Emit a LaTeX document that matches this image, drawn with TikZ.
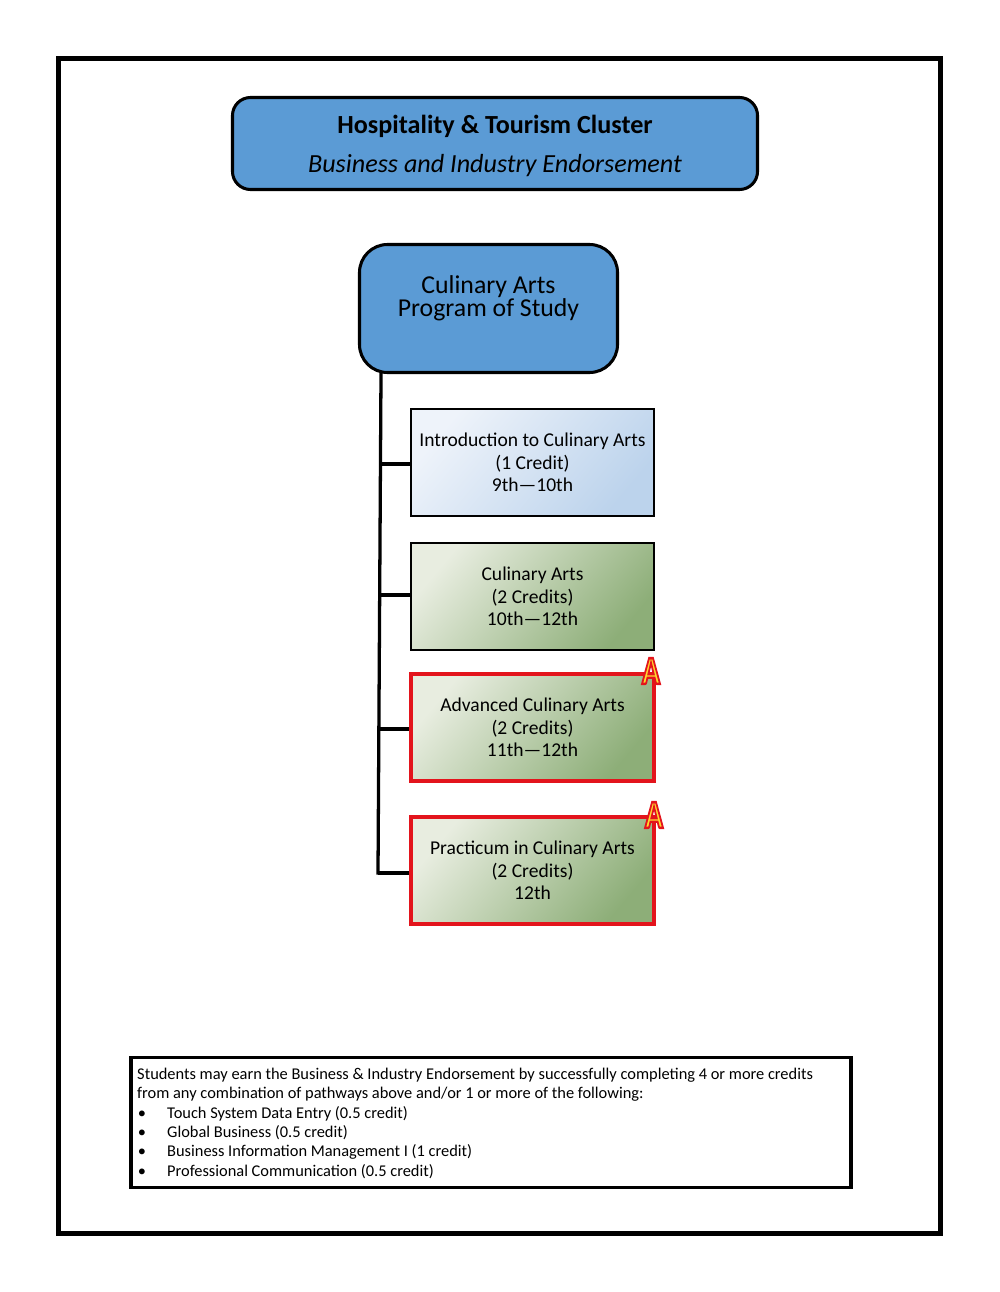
\documentclass[tikz,border=0pt]{standalone}
\usepackage{fontspec}
\setmainfont{Carlito}
\definecolor{headblue}{HTML}{5B9BD5}
\definecolor{lightblue}{HTML}{EEF3FA}
\definecolor{midblue}{HTML}{BCD3EC}
\definecolor{lightgreen}{HTML}{E8EDE0}
\definecolor{midgreen}{HTML}{8DAE78}
\definecolor{markred}{HTML}{E3141C}
\tikzset{
    headbox/.style={draw, fill=headblue, line width=2.6pt, align=center},
    coursebox/.style={draw, line width=2.1pt, minimum width=7.28cm, minimum height=3.22cm, align=center, font=\fontsize{16.7}{19.3}\selectfont},
    bluebox/.style={coursebox, left color=lightblue, right color=midblue, shading angle=50},
    greenbox/.style={coursebox, left color=lightgreen, right color=midgreen, shading angle=50},
    apbox/.style={greenbox, draw=markred, line width=3.4pt},
    branch/.style={line width=2.8pt},
    apmark/.style={inner sep=0pt, font=\bfseries\fontsize{34}{34}\selectfont, transform shape, xscale=0.75}
}
\newcommand{\apletter}{\special{pdf:code 2 Tr 2 w 0.89 0.08 0.11 RG 1 0.85 0.18 rg}A\special{pdf:code 0 Tr}}
\begin{document}
\begin{tikzpicture}[x=0.03cm, y=-0.03cm]
    \useasboundingbox (0,0) rectangle (999,1292);
    \node (frame) at (499.5, 646) [draw, line width=3.8pt, minimum width=26.47cm, minimum height=35.24cm] {};

    \node (cluster) at (495, 143.5) [headbox, rounded corners=0.54cm, minimum width=15.75cm, minimum height=2.76cm] {};
    \node (clustername) at (495, 126.5) {\bfseries\fontsize{22.3}{24}\selectfont Hospitality \& Tourism Cluster};
    \node (clustersub) at (495, 165.5) {\itshape\fontsize{22.3}{24}\selectfont Business and Industry Endorsement};

    \node (program) at (488.5, 308.5) [headbox, rounded corners=0.84cm, minimum width=7.74cm, minimum height=3.84cm] {};
    \node (programname) at (488.5, 298) [align=center, font=\fontsize{22}{19.4}\selectfont] {Culinary Arts\\Program of Study};

    \node (intro) at (532.5, 462.5) [bluebox] {Introduction to Culinary Arts\\(1 Credit)\\9th---10th};
    \node (culinary) at (532.5, 596.5) [greenbox] {Culinary Arts\\(2 Credits)\\10th---12th};
    \node (advanced) at (532.5, 727.5) [apbox] {Advanced Culinary Arts\\(2 Credits)\\11th---12th};
    \node (practicum) at (532.5, 870.5) [apbox] {Practicum in Culinary Arts\\(2 Credits)\\12th};

    \coordinate (trunktop) at (program.south -| 381, 0);
    \coordinate (trunkend) at (378, 873);
    \draw[branch, line cap=rect] (trunktop) -- (trunkend);
    \draw[branch] (380, 464) -- (intro.west |- 380, 464);
    \draw[branch] (380, 595) -- (culinary.west |- 380, 595);
    \draw[branch] (379.5, 729) -- (advanced.west |- 379.5, 729);
    \draw[branch] (trunkend) -- (practicum.west |- trunkend);

    \node (mark1) at (651, 671) [apmark] {\apletter};
    \node (mark2) at (654, 815) [apmark] {\apletter};

    \node (notes) at (491, 1122.5) [draw, line width=3pt, minimum width=21.6cm, minimum height=3.9cm] {};
    \node (notestext) at (137, 1068) [anchor=north west, inner sep=0pt, align=left, font=\fontsize{14}{16.45}\selectfont] {Students may earn the Business \& Industry Endorsement by successfully completing 4 or more credits\\
from any combination of pathways above and/or 1 or more of the following:\\
\makebox[25.6pt][l]{\hspace{0.5pt}\textbullet}Touch System Data Entry (0.5 credit)\\
\makebox[25.6pt][l]{\hspace{0.5pt}\textbullet}Global Business (0.5 credit)\\
\makebox[25.6pt][l]{\hspace{0.5pt}\textbullet}Business Information Management I (1 credit)\\
\makebox[25.6pt][l]{\hspace{0.5pt}\textbullet}Professional Communication (0.5 credit)};
\end{tikzpicture}
\end{document}
